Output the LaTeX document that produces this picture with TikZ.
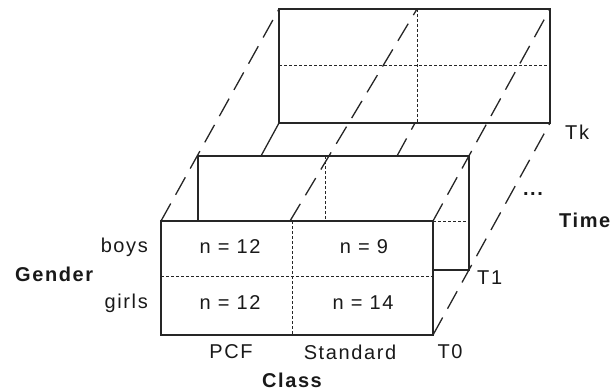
\documentclass[tikz,border=0pt]{standalone}
\usepackage{fontspec}
\setmainfont{Liberation Sans}[LetterSpace=8]
\begin{document}
\begin{tikzpicture}[x=1pt,y=-1pt,
  edge/.style={line width=1.3pt,draw=black!85},
  longdash/.style={line width=1.3pt,draw=black!85,dash pattern=on 20pt off 10pt},
  fine/.style={line width=1pt,draw=black!85,dash pattern=on 3pt off 2pt},
  lbl/.style={inner sep=0pt,text=black!90,font=\fontsize{20}{24}\selectfont},
  blbl/.style={inner sep=0pt,text=black!90,font=\fontsize{20}{24}\selectfont\bfseries}]
\useasboundingbox (0,0) rectangle (612,390);
% corners
\coordinate (a0) at (161,221); \coordinate (b0) at (433,221);
\coordinate (c0) at (433,335); \coordinate (d0) at (161,335);
\coordinate (ak) at (279,9); \coordinate (bk) at (550,9);
\coordinate (ck) at (550,123); \coordinate (dk) at (279,123);
\coordinate (m0) at (290,221); \coordinate (mk) at (417,9);
% time-direction edges
\draw[longdash] (a0) -- (ak);
\draw[longdash] (m0) -- (mk);
\draw[longdash] (b0) -- (bk);
\draw[longdash] (c0) -- (ck);
\draw[longdash] (397,156) -- (415,123);
\draw[edge] (261,156) -- (dk);
% Tk slice
\draw[edge] (ak) rectangle (ck);
\draw[fine] (279,66) -- (550,66);
\draw[fine] (mk) -- (417,123);
% T1 slice
\draw[edge] (198,221) -- (198,156) -- (469,156) -- (469,270) -- (433,270);
\draw[fine] (325,156) -- (325,221);
\draw[fine] (b0) -- (469,221);
% T0 slice
\draw[edge,fill=white] (a0) rectangle (c0);
\draw[fine] (161,276) -- (433,276);
\draw[fine] (292,221) -- (292,335);
% labels
\node[lbl,anchor=east] (boys) at (148,247) {boys};
\node[lbl,anchor=east] (girls) at (148,303) {girls};
\node[blbl,anchor=west] (gender) at (15,274) {Gender};
\node[lbl] (n1) at (230,247) {n = 12};
\node[lbl] (n2) at (364,247) {n = 9};
\node[lbl] (n3) at (230,303) {n = 12};
\node[lbl] (n4) at (363,303) {n = 14};
\node[lbl] (pcf) at (231,352) {PCF};
\node[lbl] (std) at (350,352) {Standard};
\node[lbl] (t0) at (450,352) {T0};
\node[blbl] (class) at (292,380) {Class};
\node[lbl,anchor=west] (t1) at (477,278) {T1};
\node[lbl,anchor=west] (tk) at (565,132) {Tk};
\node[blbl] (dots) at (533,194) {...};
\node[blbl,anchor=west] (time) at (559,220) {Time};
\end{tikzpicture}
\end{document}
